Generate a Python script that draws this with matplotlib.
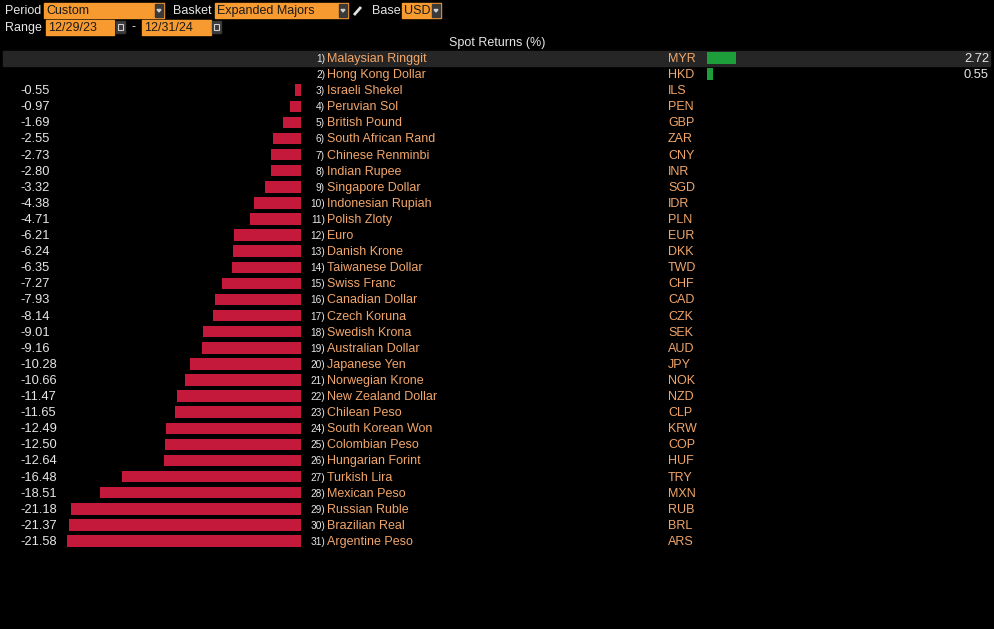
import matplotlib
matplotlib.use("Agg")
import matplotlib.pyplot as plt
from matplotlib.patches import Rectangle, Polygon
from matplotlib.transforms import blended_transform_factory

names = ["Malaysian Ringgit", "Hong Kong Dollar", "Israeli Shekel", "Peruvian Sol", "British Pound",
         "South African Rand", "Chinese Renminbi", "Indian Rupee", "Singapore Dollar", "Indonesian Rupiah",
         "Polish Zloty", "Euro", "Danish Krone", "Taiwanese Dollar", "Swiss Franc", "Canadian Dollar",
         "Czech Koruna", "Swedish Krona", "Australian Dollar", "Japanese Yen", "Norwegian Krone",
         "New Zealand Dollar", "Chilean Peso", "South Korean Won", "Colombian Peso", "Hungarian Forint",
         "Turkish Lira", "Mexican Peso", "Russian Ruble", "Brazilian Real", "Argentine Peso"]
codes = ["MYR", "HKD", "ILS", "PEN", "GBP", "ZAR", "CNY", "INR", "SGD", "IDR", "PLN", "EUR", "DKK",
         "TWD", "CHF", "CAD", "CZK", "SEK", "AUD", "JPY", "NOK", "NZD", "CLP", "KRW", "COP", "HUF",
         "TRY", "MXN", "RUB", "BRL", "ARS"]
returns = [2.72, 0.55, -0.55, -0.97, -1.69, -2.55, -2.73, -2.80, -3.32, -4.38, -4.71, -6.21, -6.24,
           -6.35, -7.27, -7.93, -8.14, -9.01, -9.16, -10.28, -10.66, -11.47, -11.65, -12.49, -12.50,
           -12.64, -16.48, -18.51, -21.18, -21.37, -21.58]

W, H = 994, 629
BG = "#000000"
ORANGE_TXT = "#f2a66a"
WHITE_TXT = "#e6e6e6"
BOX = "#f79a30"
RED = "#c4193a"
GREEN = "#1e9e3a"
FONT = "Liberation Sans"

fig = plt.figure(figsize=(W / 100, H / 100), dpi=100, facecolor=BG)

# pixel-coordinate overlay for header
hdr = fig.add_axes([0, 0, 1, 1], zorder=0)
hdr.set_xlim(0, W)
hdr.set_ylim(H, 0)
hdr.axis("off")
hdr.set_facecolor(BG)

scale = 10.84  # pixels per percent
y_top, y_bot = -58 / 16.1, (H - 58) / 16.1
left_px, right_px = 301, 707

axL = fig.add_axes([0, 0, left_px / W, 1], zorder=1)
axL.set_xlim(-left_px / scale, 0)
axR = fig.add_axes([right_px / W, 0, (W - right_px) / W, 1], zorder=1)
axR.set_xlim(0, (W - right_px) / scale)
for ax in (axL, axR):
    ax.set_ylim(y_bot, y_top)
    ax.axis("off")
    ax.patch.set_alpha(0)

rows = list(range(len(names)))
neg_rows = [i for i in rows if returns[i] < 0]
pos_rows = [i for i in rows if returns[i] >= 0]
axL.barh(neg_rows, [returns[i] for i in neg_rows], height=0.72, color=RED, zorder=2)
axR.barh(pos_rows, [returns[i] for i in pos_rows], height=0.72, color=GREEN, zorder=2)

tr = blended_transform_factory(hdr.transData, axL.transData)

# highlight band for selected row
hdr.add_patch(Rectangle((3, -0.45), 987, 0.92, transform=tr, color="#262626", zorder=0.5))

dy = 0.06
for i in rows:
    yy = i + dy
    hdr.text(325, yy, f"{i + 1})", transform=tr, ha="right", va="center", color=WHITE_TXT,
             fontsize=7.3, family=["Liberation Sans Narrow", FONT], zorder=3)
    hdr.text(327, yy, names[i], transform=tr, ha="left", va="center", color=ORANGE_TXT,
             fontsize=9, family=FONT, zorder=3)
    hdr.text(668, yy, codes[i], transform=tr, ha="left", va="center", color=ORANGE_TXT,
             fontsize=9, family=FONT, zorder=3)
    if returns[i] < 0:
        hdr.text(20, yy, f"{returns[i]:.2f}", transform=tr, ha="left", va="center", color=WHITE_TXT,
                 fontsize=9.3, family=FONT, zorder=3)
    else:
        hdr.text(989, yy, f"{returns[i]:.2f}", transform=tr, ha="right", va="center", color=WHITE_TXT,
                 fontsize=9.3, family=FONT, zorder=3)

hdr.text(497, 43, "Spot Returns (%)", ha="center", va="center", color=WHITE_TXT, fontsize=9, family=FONT)

# header controls
def box(x0, x1, y0, y1, label, arrow=False):
    hdr.add_patch(Rectangle((x0, y0), x1 - x0, y1 - y0, color=BOX, zorder=1))
    hdr.text(x0 + 2, (y0 + y1) / 2 + 0.5, label, ha="left", va="center", color="#1a1a1a",
             fontsize=9, family=FONT, zorder=2)
    if arrow:
        hdr.add_patch(Rectangle((x1 - 9, y0 + 1), 8, y1 - y0 - 2, color="#3a3a3a", zorder=2))
        hdr.add_patch(Polygon([(x1 - 7, y0 + 6.5), (x1 - 3, y0 + 6.5), (x1 - 5, y0 + 9)],
                              color="#d0d0d0", zorder=3))

def cal(x0, y0):
    hdr.add_patch(Rectangle((x0, y0), 9, 12, color="#3a3a3a", zorder=1))
    hdr.add_patch(Rectangle((x0 + 2, y0 + 3), 5, 6, fill=False, ec="#d0d0d0", lw=0.8, zorder=2))

hdr.text(5, 10.5, "Period", ha="left", va="center", color=WHITE_TXT, fontsize=9, family=FONT)
box(44, 164, 3, 18, "Custom", arrow=True)
hdr.text(173, 10.5, "Basket", ha="left", va="center", color=WHITE_TXT, fontsize=9, family=FONT)
box(215, 348, 3, 18, "Expanded Majors", arrow=True)
hdr.plot([354, 361], [15, 7], color="#e0e0e0", lw=2, solid_capstyle="butt")
hdr.text(372, 10.5, "Base", ha="left", va="center", color=WHITE_TXT, fontsize=9, family=FONT)
box(402, 441, 3, 18, "USD", arrow=True)

hdr.text(5, 27.5, "Range", ha="left", va="center", color=WHITE_TXT, fontsize=9, family=FONT)
box(46, 114, 20, 35, "12/29/23")
cal(116, 21)
hdr.text(133, 27, "-", ha="center", va="center", color=WHITE_TXT, fontsize=9, family=FONT)
box(142, 211, 20, 35, "12/31/24")
cal(212, 21)

fig.savefig("out.png", dpi=100, facecolor=BG)
